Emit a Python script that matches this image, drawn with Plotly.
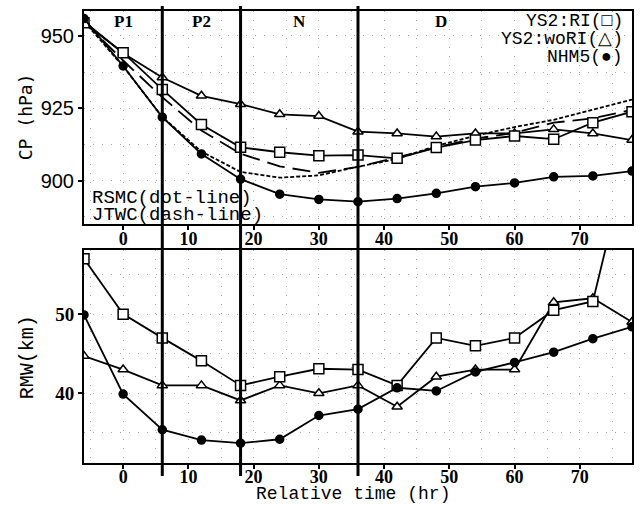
import plotly.graph_objects as go

# ---- data ----
hours = [-6, 0, 6, 12, 18, 24, 30, 36, 42, 48, 54, 60, 66, 72, 78]

cp_ri = [954.5, 944.2, 931.5, 919.4, 911.5, 909.8, 908.6, 908.8, 907.7, 911.4, 914.0, 915.4, 914.3, 920.0, 923.8]
cp_wori = [955.0, 944.0, 935.6, 929.3, 926.4, 922.9, 922.3, 916.9, 916.3, 915.2, 916.3, 916.3, 917.7, 916.3, 914.0]
cp_nhm5 = [956.0, 939.6, 921.9, 909.2, 900.5, 895.3, 893.5, 892.7, 893.8, 895.6, 897.9, 899.2, 901.3, 901.6, 903.3]
cp_rsmc = [955.0, 939.5, 922.0, 910.0, 903.0, 901.0, 901.8, 904.8, 907.5, 912.0, 915.5, 918.5, 921.0, 924.5, 928.0]
cp_jtwc = [955.0, 941.5, 928.8, 917.3, 909.3, 904.9, 902.7, 904.7, 908.0, 911.5, 914.5, 916.5, 920.0, 921.5, 924.5]

rmw_ri = [57.0, 50.0, 47.0, 44.1, 41.0, 42.1, 43.1, 43.0, 41.0, 47.0, 46.0, 47.0, 50.5, 51.6, 72.0]
rmw_wori = [44.7, 43.0, 41.0, 41.0, 39.1, 41.0, 40.0, 41.0, 38.3, 42.1, 43.0, 43.0, 51.5, 52.0, 49.0]
rmw_nhm5 = [49.9, 39.9, 35.4, 34.1, 33.7, 34.2, 37.2, 38.0, 40.7, 40.3, 42.7, 43.9, 45.2, 46.9, 48.4]

period_bounds = [6, 18, 36]
period_labels = ["P1", "P2", "N", "D"]
period_label_x = [0, 12, 27, 48.7]

legend_texts = ["YS2:RI(\u25a1)", "YS2:woRI(\u25b3)", "NHM5(\u25cf)"]

# ---- figure ----
fig = go.Figure()

LW = 1.8

def add_model(x, y, xa, ya, symbol, fill, size):
    fig.add_trace(go.Scatter(
        x=x, y=y, xaxis=xa, yaxis=ya, mode="lines+markers",
        line=dict(color="black", width=LW),
        marker=dict(symbol=symbol, size=size, color=fill,
                    line=dict(color="black", width=1.5)),
        showlegend=False))

# top panel observations
fig.add_trace(go.Scatter(x=hours, y=cp_rsmc, xaxis="x", yaxis="y", mode="lines",
                         line=dict(color="black", width=LW, dash="4px,2px"), showlegend=False))
fig.add_trace(go.Scatter(x=hours, y=cp_jtwc, xaxis="x", yaxis="y", mode="lines",
                         line=dict(color="black", width=LW, dash="18px,8px"), showlegend=False))

add_model(hours, cp_wori, "x", "y", "triangle-up", "white", 9)
add_model(hours, cp_ri, "x", "y", "square", "white", 10)
add_model(hours, cp_nhm5, "x", "y", "circle", "black", 8)

add_model(hours, rmw_wori, "x2", "y2", "triangle-up", "white", 9)
add_model(hours, rmw_ri, "x2", "y2", "square", "white", 10)
add_model(hours, rmw_nhm5, "x2", "y2", "circle", "black", 8)

T, B = 11, 42
H = 505 - T - B
def py(y):
    return (505 - B - y) / H

top_dom = [py(224), 1.0]
bot_dom = [0.0, py(250)]

GC = "#a8a8a8"
GD = "1px,8px"
grid = dict(showgrid=True, gridcolor=GC, griddash=GD, gridwidth=1)
axis_common = dict(showline=True, linecolor="black", linewidth=2, mirror=True,
                   ticks="outside", ticklen=4, tickwidth=1.5, tickcolor="black",
                   zeroline=False, **grid)

xtickfont = dict(family="Liberation Serif", size=18, color="black", weight="bold")
minor_x = dict(dtick=5, showgrid=True, gridcolor=GC, griddash=GD)

fig.update_layout(
    width=640, height=505,
    margin=dict(l=84, r=6, t=T, b=B),
    paper_bgcolor="white", plot_bgcolor="white",
    xaxis=dict(domain=[0, 1], range=[-6, 78], dtick=10, anchor="y",
               tickfont=xtickfont, ticklabelstandoff=-7, minor=minor_x,
               **axis_common),
    yaxis=dict(domain=top_dom, range=[885, 958.6], tickvals=[900, 925, 950], anchor="x",
               tickfont=dict(family="Liberation Sans", size=20, color="black"),
               minor=dict(dtick=12.5, tick0=900, showgrid=True, gridcolor=GC, griddash=GD),
               **axis_common),
    xaxis2=dict(domain=[0, 1], range=[-6, 78], dtick=10, anchor="y2",
                tickfont=xtickfont, ticklabelstandoff=-8, minor=minor_x,
                **axis_common),
    yaxis2=dict(domain=bot_dom, range=[31.2, 58.1], tickvals=[40, 50], anchor="x2",
                tickfont=dict(family="Liberation Serif", size=19, color="black", weight="bold"),
                minor=dict(dtick=5, showgrid=True, gridcolor=GC, griddash=GD),
                **axis_common),
)

# period boundary lines spanning both panels
for xb in period_bounds:
    fig.add_shape(type="line", xref="x", yref="paper", x0=xb, x1=xb,
                  y0=py(476), y1=py(6), line=dict(color="black", width=3), layer="above")

# period labels
for lab, xl in zip(period_labels, period_label_x):
    fig.add_annotation(x=xl, xref="x", y=py(21), yref="paper", text=lab, showarrow=False,
                       xanchor="center", yanchor="middle",
                       font=dict(family="Liberation Serif", size=17, color="black", weight="bold"))

# legend texts
for i, t in enumerate(legend_texts):
    fig.add_annotation(x=(627 - 84) / 550, xref="paper", y=py(21 + 18 * i), yref="paper",
                       text=t, showarrow=False, xanchor="right", yanchor="middle",
                       font=dict(family="Liberation Mono", size=18, color="black"))

# observation notes
fig.add_annotation(x=-5.1, xref="x", y=py(198), yref="paper", text="RSMC(dot-line)",
                   showarrow=False, xanchor="left", yanchor="middle",
                   font=dict(family="Liberation Mono", size=19, color="black"))
fig.add_annotation(x=-5.1, xref="x", y=py(215), yref="paper", text="JTWC(dash-line)",
                   showarrow=False, xanchor="left", yanchor="middle",
                   font=dict(family="Liberation Mono", size=19, color="black"))

# axis titles
fig.add_annotation(x=(25 - 84) / 550, xref="paper", y=py(117), yref="paper", text="CP (hPa)",
                   textangle=-90, showarrow=False, xanchor="center", yanchor="middle",
                   font=dict(family="DejaVu Sans Mono", size=18, color="black"))
fig.add_annotation(x=(27 - 84) / 550, xref="paper", y=py(357), yref="paper", text="RMW(km)",
                   textangle=-90, showarrow=False, xanchor="center", yanchor="middle",
                   font=dict(family="Liberation Mono", size=20, color="black"))
fig.add_annotation(x=(353.5 - 84) / 550, xref="paper", y=py(494), yref="paper",
                   text="Relative time (hr)", showarrow=False, xanchor="center", yanchor="middle",
                   font=dict(family="Liberation Mono", size=18, color="black"))

fig.write_html("out.html", config={"displayModeBar": False},
               post_script="document.body.style.margin='0';document.body.style.overflow='hidden';")
